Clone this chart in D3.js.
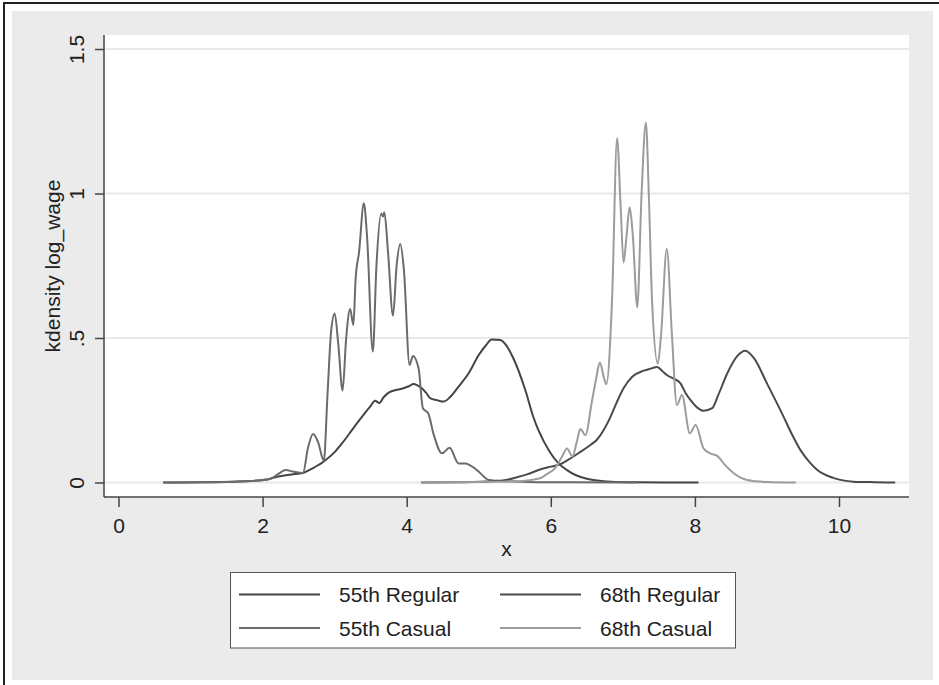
<!DOCTYPE html>
<html><head><meta charset="utf-8">
<script src="https://cdn.jsdelivr.net/npm/d3@7"></script>
<style>
html,body{margin:0;padding:0;background:#fff;}
svg{display:block;font-family:"Liberation Sans",Arial,Helvetica,sans-serif;}
</style></head>
<body>
<svg id="chart" width="939" height="685"></svg>
<script>
// ---- data ----
const seriesNames = ["55th Regular", "68th Regular", "55th Casual", "68th Casual"];
const seriesColors = ["#454545", "#4b4b4b", "#6b6b6b", "#9c9c9c"];
const xTicks = [0, 2, 4, 6, 8, 10];
const yTicks = [0, 0.5, 1, 1.5];
const yTickLabels = ["0", ".5", "1", "1.5"];

const reg55 = [[0.62,0],[1.2,0.001],[1.6,0.003],[1.83,0.005],[2.06,0.01],[2.2,0.02],[2.4,0.028],[2.57,0.034],[2.7,0.05],[2.845,0.072],[3.0,0.105],[3.12,0.141],[3.25,0.185],[3.40,0.234],[3.5,0.265],[3.56,0.283],[3.62,0.275],[3.68,0.295],[3.75,0.311],[3.85,0.32],[3.955,0.326],[4.03,0.333],[4.095,0.341],[4.15,0.336],[4.21,0.326],[4.27,0.31],[4.33,0.291],[4.42,0.285],[4.51,0.28],[4.6,0.295],[4.72,0.332],[4.86,0.378],[5.0,0.441],[5.1,0.475],[5.18,0.495],[5.3,0.493],[5.38,0.475],[5.48,0.43],[5.646,0.32],[5.76,0.225],[5.83,0.18],[5.98,0.108],[6.1,0.068],[6.225,0.043],[6.35,0.025],[6.5,0.013],[6.83,0.003],[7.2,0.001],[8.05,0]];

const reg68 = [[4.2,0],[4.8,0.001],[5.2,0.005],[5.4,0.01],[5.53,0.018],[5.67,0.028],[5.85,0.045],[6.0,0.055],[6.13,0.063],[6.25,0.08],[6.41,0.106],[6.55,0.13],[6.64,0.148],[6.73,0.18],[6.83,0.228],[6.92,0.28],[7.01,0.326],[7.13,0.366],[7.29,0.387],[7.40,0.395],[7.475,0.40],[7.55,0.385],[7.61,0.372],[7.70,0.36],[7.80,0.343],[7.87,0.31],[7.94,0.285],[8.03,0.26],[8.12,0.248],[8.24,0.257],[8.32,0.3],[8.45,0.378],[8.59,0.438],[8.70,0.456],[8.82,0.43],[9.0,0.343],[9.23,0.228],[9.35,0.165],[9.465,0.112],[9.6,0.068],[9.70,0.043],[9.93,0.015],[10.2,0.003],[10.5,0.001],[10.78,0]];

const cas55 = [[0.62,0],[1.2,0.001],[1.6,0.003],[1.9,0.006],[2.1,0.012],[2.22,0.03],[2.32,0.043],[2.42,0.038],[2.56,0.033],[2.63,0.12],[2.70,0.168],[2.77,0.14],[2.85,0.075],[2.9,0.3],[2.95,0.52],[3.0,0.585],[3.05,0.48],[3.11,0.318],[3.16,0.5],[3.215,0.60],[3.26,0.545],[3.29,0.7],[3.34,0.80],[3.405,0.966],[3.45,0.85],[3.53,0.453],[3.58,0.75],[3.646,0.931],[3.67,0.92],[3.69,0.935],[3.74,0.8],[3.81,0.577],[3.86,0.75],[3.91,0.825],[3.96,0.74],[4.04,0.407],[4.086,0.438],[4.165,0.395],[4.225,0.257],[4.30,0.239],[4.37,0.170],[4.49,0.101],[4.595,0.12],[4.72,0.066],[4.81,0.066],[4.975,0.043],[5.14,0.009],[5.4,0.004],[5.8,0.001],[7.2,0]];

const cas68 = [[4.2,0],[5.0,0.002],[5.5,0.004],[5.76,0.01],[5.88,0.018],[5.95,0.03],[6.06,0.05],[6.155,0.089],[6.225,0.118],[6.30,0.09],[6.36,0.14],[6.41,0.185],[6.48,0.164],[6.57,0.28],[6.63,0.36],[6.68,0.415],[6.74,0.36],[6.77,0.34],[6.85,0.631],[6.92,1.191],[6.97,0.95],[7.01,0.761],[7.05,0.85],[7.095,0.952],[7.14,0.85],[7.20,0.606],[7.26,1.0],[7.32,1.245],[7.36,1.0],[7.405,0.631],[7.485,0.412],[7.53,0.51],[7.61,0.808],[7.68,0.516],[7.75,0.268],[7.82,0.303],[7.93,0.17],[8.01,0.199],[8.12,0.118],[8.22,0.1],[8.31,0.092],[8.42,0.06],[8.54,0.032],[8.725,0.009],[9.0,0.002],[9.4,0]];

const seriesData = [reg55, reg68, cas55, cas68];
const drawOrder = [0, 2, 1, 3];

// ---- layout ----
const svg = d3.select("#chart");
const plot = {left: 104, right: 909, top: 35, bottom: 497};

svg.append("rect").attr("x",0).attr("y",0).attr("width",939).attr("height",685).attr("fill","#fff");
svg.append("rect").attr("x",12).attr("y",11).attr("width",921).attr("height",669).attr("fill","#ebebeb");
// frame lines (left & top)
svg.append("line").attr("x1",4).attr("x2",4).attr("y1",2).attr("y2",685).attr("stroke","#222").attr("stroke-width",2);
svg.append("line").attr("x1",3).attr("x2",939).attr("y1",3).attr("y2",3).attr("stroke","#222").attr("stroke-width",2);

svg.append("rect").attr("x",plot.left).attr("y",plot.top)
  .attr("width",plot.right-plot.left).attr("height",plot.bottom-plot.top).attr("fill","#fff");

const x = d3.scaleLinear().domain([0,10]).range([118.5, 839]);
const y = d3.scaleLinear().domain([0,1.5]).range([482.5, 49]);

// gridlines
svg.append("g").selectAll("line").data(yTicks).join("line")
  .attr("x1",plot.left).attr("x2",plot.right)
  .attr("y1",d=>y(d)).attr("y2",d=>y(d))
  .attr("stroke","#e8e8e8").attr("stroke-width",2);

// axes
const yAxis = d3.axisLeft(y).tickValues(yTicks).tickFormat((d,i)=>yTickLabels[i]).tickSize(9).tickSizeOuter(0);
const gy = svg.append("g").attr("transform",`translate(${plot.left},0)`).call(yAxis);
gy.select(".domain").attr("d",`M0,${plot.top}V${plot.bottom}`);
gy.selectAll(".tick text").attr("transform","rotate(-90)")
  .attr("x",0).attr("y",-20).attr("dy",0).attr("text-anchor","middle")
  .attr("font-size",21).attr("fill","#222").attr("font-family","Liberation Sans, Arial, sans-serif");

const xAxis = d3.axisBottom(x).tickValues(xTicks).tickFormat(d3.format("d")).tickSize(10).tickSizeOuter(0);
const gx = svg.append("g").attr("transform",`translate(0,${plot.bottom})`).call(xAxis);
gx.select(".domain").attr("d",`M${plot.left},0H${plot.right}`);
gx.selectAll(".tick text").attr("y",36).attr("dy",0)
  .attr("font-size",21).attr("fill","#222").attr("font-family","Liberation Sans, Arial, sans-serif");

svg.selectAll(".domain").attr("stroke","#444").attr("stroke-width",1.5);
svg.selectAll(".tick line").attr("stroke","#444").attr("stroke-width",1.5);

// axis titles
svg.append("text").attr("x",(plot.left+plot.right)/2).attr("y",556)
  .attr("text-anchor","middle").attr("font-size",21).attr("fill","#222").text("x");
svg.append("text").attr("transform",`translate(60,266) rotate(-90)`)
  .attr("text-anchor","middle").attr("font-size",21).attr("fill","#222").text("kdensity log_wage");

// curves
const line = d3.line().x(d=>x(d[0])).y(d=>y(d[1])).curve(d3.curveMonotoneX);
svg.append("g").selectAll("path").data(drawOrder).join("path")
  .attr("d",i=>line(seriesData[i]))
  .attr("fill","none").attr("stroke",i=>seriesColors[i])
  .attr("stroke-width",2).attr("stroke-linejoin","round");

// legend
const lg = svg.append("g");
lg.append("rect").attr("x",230.5).attr("y",572.5).attr("width",505).attr("height",75.5)
  .attr("fill","#fff").attr("stroke","#555").attr("stroke-width",1);
const colX = [239, 500];
const rowY = [594.5, 628];
seriesNames.forEach((name,i)=>{
  const c = i % 2, r = Math.floor(i/2);
  lg.append("line").attr("x1",colX[c]).attr("x2",colX[c]+81)
    .attr("y1",rowY[r]).attr("y2",rowY[r])
    .attr("stroke",seriesColors[i]).attr("stroke-width",2);
  lg.append("text").attr("x",colX[c]+100).attr("y",rowY[r]+7.5)
    .attr("font-size",21).attr("fill","#222").text(name);
});
</script>
</body></html>
